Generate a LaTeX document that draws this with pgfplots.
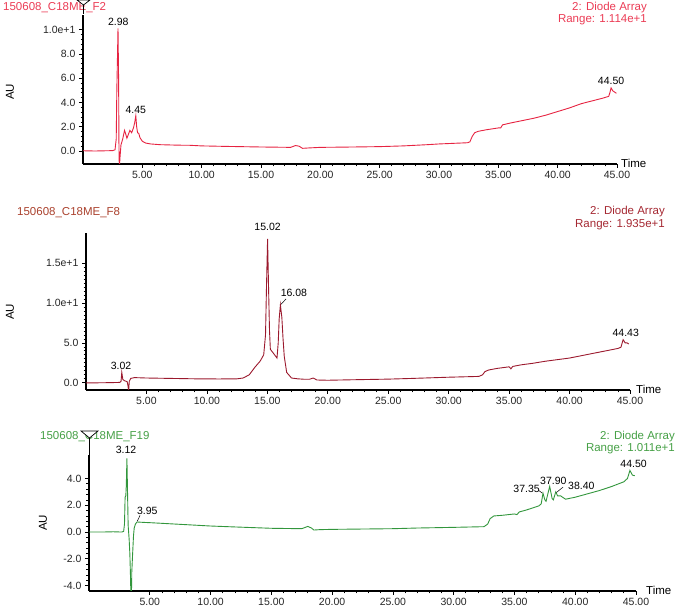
\documentclass[border=0pt]{standalone}
\usepackage{pgfplots}
\pgfplotsset{compat=1.18}
\usepackage{fontspec}
\setmainfont{Liberation Sans}
\definecolor{c1}{RGB}{230,35,65}
\definecolor{c1t}{RGB}{235,60,85}
\definecolor{c2}{RGB}{155,25,45}
\definecolor{c2t}{RGB}{170,65,45}
\definecolor{c2r}{RGB}{165,40,50}
\definecolor{c3}{RGB}{50,150,60}
\definecolor{c3t}{RGB}{70,160,70}
\pgfplotsset{chrom/.style={
  scale only axis, axis x line=bottom, axis y line=left,
  axis line style={-, line width=1.2pt},
  xmin=0, xmax=45, xtick={5,10,15,20,25,30,35,40,45},
  xticklabels={5.00,10.00,15.00,20.00,25.00,30.00,35.00,40.00,45.00},
  minor x tick num=4,
  tick align=outside, major tick length=4pt, minor tick length=2.5pt,
  every tick/.append style={black, line width=0.7pt},
  tick label style={font=\fontsize{10.5}{12}\selectfont, text=black!85},
  clip mode=individual,
  anchor=south west,
}}
\newcommand{\pk}{\fontsize{10.5}{12}\selectfont}
\newcommand{\tl}{\fontsize{11.5}{13}\selectfont}
\begin{document}
\begin{tikzpicture}[x=1pt,y=1pt]
\useasboundingbox (0,0) rectangle (675,610);
% ---------- Panel 1 ----------
\begin{axis}[chrom, at={(83pt,446pt)}, width=534pt, height=149pt,
  ymin=-1.07, ymax=11.2, ytick={0,2,4,6,8,10},
  yticklabels={0.0,2.0,4.0,6.0,8.0,1.0e+1}, minor y tick num=4]
\addplot[c1, line width=0.9pt] coordinates {
(0,0.02)(1,0.0)(2,0.02)(2.5,0.03)(2.7,0.1)(2.8,1.0)(2.85,5.0)(2.9,7.5)(2.95,10.1)(3.0,6.0)(3.03,0.5)(3.06,-1.5)(3.12,-0.5)(3.2,0.5)(3.35,1.0)(3.5,1.7)(3.6,1.4)(3.7,1.05)(3.8,1.3)(3.95,1.7)(4.1,1.5)(4.25,1.9)(4.35,2.3)(4.45,2.9)(4.52,2.0)(4.6,1.5)(4.7,1.45)(4.8,1.1)(5.0,0.8)(5.3,0.65)(5.7,0.58)(6.5,0.52)(8,0.48)(9,0.47)(10,0.42)(12,0.38)(15,0.33)(17.5,0.3)(17.9,0.45)(18.2,0.4)(18.5,0.22)(19,0.25)(20,0.3)(22,0.32)(25,0.36)(27,0.42)(29,0.52)(30,0.58)(32.4,0.68)(32.6,0.75)(32.8,1.2)(33.0,1.5)(33.3,1.62)(34,1.75)(35,1.9)(35.2,1.9)(35.35,2.15)(36,2.3)(37,2.5)(38,2.7)(39,2.95)(40,3.25)(41,3.55)(42,3.9)(43,4.15)(43.8,4.35)(44.3,4.5)(44.4,4.8)(44.5,5.2)(44.65,4.95)(44.8,4.85)(44.95,4.75)};
\node[font=\pk] at (axis cs:2.98,10.65) {2.98};
\node[font=\pk] at (axis cs:4.45,3.4) {4.45};
\node[font=\pk] at (axis cs:44.5,5.75) {44.50};
\end{axis}
% ---------- Panel 2 ----------
\begin{axis}[chrom, at={(86pt,220pt)}, width=544pt, height=157pt,
  ymin=-0.9, ymax=18.75, ytick={0,5,10,15},
  yticklabels={0.0,5.0,1.0e+1,1.5e+1}, minor y tick num=9]
\addplot[c2, line width=0.9pt] coordinates {
(0,0.0)(1,0.0)(2,0.02)(2.8,0.05)(2.9,0.2)(2.96,1.3)(3.05,0.4)(3.2,0.25)(3.4,0.15)(3.48,-0.4)(3.52,-1.2)(3.58,0.2)(3.7,0.55)(4,0.65)(5,0.6)(7,0.55)(9,0.5)(11,0.48)(12.5,0.5)(13.0,0.6)(13.5,1.0)(14.0,2.0)(14.4,2.7)(14.7,3.5)(14.85,6)(14.93,12)(15.02,18.0)(15.1,12)(15.18,6.5)(15.25,4.2)(15.5,3.7)(15.8,3.1)(15.9,5)(15.98,8.0)(16.08,9.75)(16.2,8.2)(16.3,5.5)(16.4,3.3)(16.6,1.3)(17,0.6)(17.5,0.5)(18,0.45)(18.5,0.45)(18.8,0.6)(19.1,0.35)(20,0.32)(22,0.38)(25,0.46)(27,0.55)(30,0.7)(32.5,0.8)(32.8,1.0)(33,1.4)(33.3,1.6)(34,1.8)(35,2.0)(35.15,1.75)(35.3,2.05)(36,2.25)(37,2.45)(38,2.7)(39,2.9)(40,3.1)(41,3.4)(42,3.7)(43,4.0)(44,4.3)(44.25,4.45)(44.43,5.4)(44.6,5.0)(44.75,5.0)(44.9,4.85)};
\node[font=\pk] at (axis cs:15.02,19.5) {15.02};
\node[font=\pk] at (axis cs:17.2,11.3) {16.08};
\draw[black, line width=0.5pt] (axis cs:16.12,9.8) -- (axis cs:16.55,10.5);
\node[font=\pk] at (axis cs:2.9,2.1) {3.02};
\node[font=\pk] at (axis cs:44.65,6.3) {44.43};
\end{axis}
% ---------- Panel 3 ----------
\begin{axis}[chrom, at={(89pt,19pt)}, width=547pt, height=136pt,
  ymin=-4.4, ymax=5.75, ytick={-4,-2,0,2,4},
  yticklabels={-4.0,-2.0,0.0,2.0,4.0}, minor y tick num=4]
\addplot[c3, line width=0.9pt] coordinates {
(0,0.0)(1,0.0)(2,0.02)(2.7,0.0)(2.85,0.05)(2.92,0.6)(2.97,2.6)(3.03,2.7)(3.07,3.5)(3.12,5.5)(3.17,3.0)(3.22,0.5)(3.3,-0.5)(3.36,-1.6)(3.42,-3.5)(3.47,-6)(3.52,-3.0)(3.58,-1.8)(3.66,-0.3)(3.72,0.3)(3.82,0.6)(3.95,0.75)(4.5,0.72)(5,0.7)(7,0.6)(10,0.45)(12,0.38)(15,0.28)(17.5,0.25)(18,0.42)(18.3,0.3)(18.5,0.15)(19,0.18)(20,0.2)(22,0.22)(25,0.25)(27,0.3)(30,0.35)(32.5,0.4)(32.8,0.6)(33,1.0)(33.3,1.2)(34,1.25)(35,1.35)(35.2,1.3)(35.4,1.5)(36,1.65)(37,1.95)(37.2,2.1)(37.35,2.9)(37.5,2.4)(37.6,2.3)(37.9,3.4)(38.1,2.5)(38.2,2.4)(38.4,3.0)(38.55,2.7)(38.8,2.7)(39.2,2.45)(40,2.6)(41,2.85)(42,3.1)(43,3.4)(44,3.75)(44.3,4.0)(44.5,4.6)(44.7,4.25)(44.9,4.2)};
\node[font=\pk] at (axis cs:3.05,6.1) {3.12};
\node[font=\pk] at (axis cs:4.8,1.6) {3.95};
\draw[black, line width=0.5pt] (axis cs:3.97,0.8) -- (axis cs:4.2,1.25);
\node[font=\pk] at (axis cs:36.0,3.2) {37.35};
\draw[black, line width=0.5pt] (axis cs:37.0,3.1) -- (axis cs:37.3,2.9);
\node[font=\pk] at (axis cs:38.2,3.85) {37.90};
\node[font=\pk] at (axis cs:40.5,3.45) {38.40};
\draw[black, line width=0.5pt] (axis cs:38.45,2.95) -- (axis cs:39.0,3.35);
\node[font=\pk] at (axis cs:44.8,5.1) {44.50};
\end{axis}
% ---------- Titles and labels ----------
\node[anchor=west, text=c1t, font=\tl, inner sep=0] at (3,602) {150608\_C18ME\_F2};
\node[anchor=east, text=c1t, font=\tl, inner sep=0] at (647,602) {2: Diode Array};
\node[anchor=east, text=c1t, font=\tl, inner sep=0] at (647,590) {Range: 1.114e+1};
\node[anchor=west, text=c2t, font=\tl, inner sep=0] at (17,397) {150608\_C18ME\_F8};
\node[anchor=east, text=c2r, font=\tl, inner sep=0] at (665,398) {2: Diode Array};
\node[anchor=east, text=c2r, font=\tl, inner sep=0] at (665,385) {Range: 1.935e+1};
\node[anchor=west, text=c3t, font=\tl, inner sep=0] at (40,173) {150608\_C18ME\_F19};
\node[anchor=east, text=c3t, font=\tl, inner sep=0] at (675,173) {2: Diode Array};
\node[anchor=east, text=c3t, font=\tl, inner sep=0] at (675,161) {Range: 1.011e+1};
\node[rotate=90, font=\tl, inner sep=0] at (10,518) {AU};
\node[rotate=90, font=\tl, inner sep=0] at (10,298) {AU};
\node[rotate=90, font=\tl, inner sep=0] at (43,87) {AU};
\node[anchor=west, font=\tl, inner sep=0] at (621,447) {Time};
\node[anchor=west, font=\tl, inner sep=0] at (636,221) {Time};
\node[anchor=west, font=\tl, inner sep=0] at (646,20) {Time};
% markers at top of y axes
\draw[line width=1pt] (83,596) -- (83,605);
\draw[fill=white, line width=0.7pt] (77,610) -- (90,610) -- (83.5,605) -- cycle;
\draw[line width=1pt] (89,155) -- (89,172);
\draw[fill=white, line width=0.7pt] (81,179) -- (98,179) -- (89.5,172) -- cycle;
\end{tikzpicture}
\end{document}
